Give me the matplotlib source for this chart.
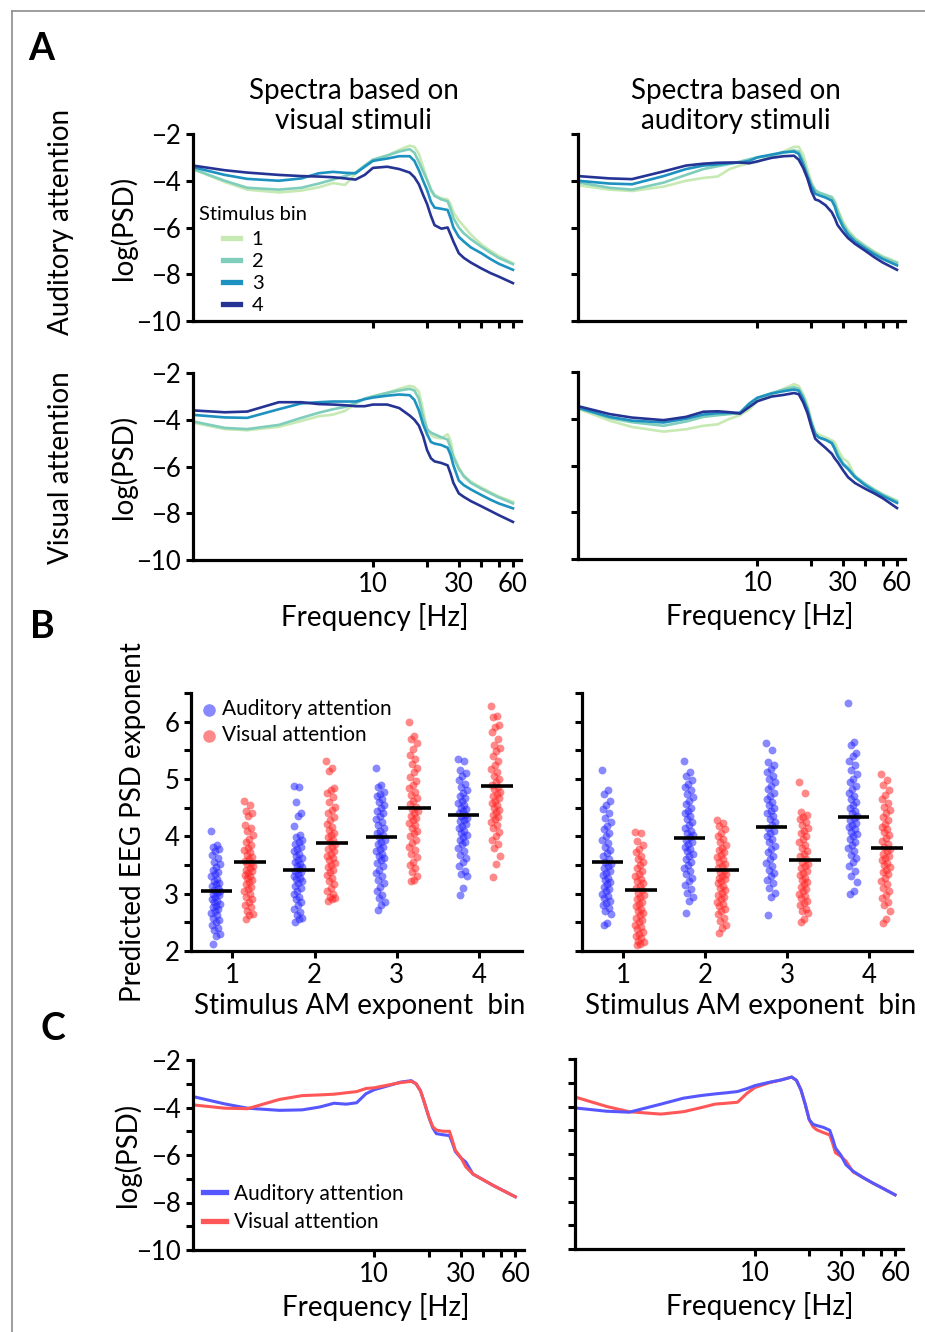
import numpy as np
import matplotlib
matplotlib.use("Agg")
import matplotlib.pyplot as plt
from matplotlib.lines import Line2D

# ── Data ─────────────────────────────────────────────────────────
FREQ = [1, 1.5, 2, 3, 4, 5, 6, 7, 8, 9, 10, 12, 14, 16, 17, 18, 19, 20, 21, 22,
        24, 26, 27, 28, 30, 32, 35, 40, 45, 50, 60]

# Panel A: auditory attention, visual stimuli (bins 1-4)
AA_VS_1 = [-3.5, -4.05, -4.38, -4.5, -4.42, -4.28, -4.1, -4.18, -3.7, -3.35, -3.1, -2.92, -2.68, -2.5, -2.55,
           -2.85, -3.4, -3.95, -4.35, -4.6, -4.75, -4.8, -5.0, -5.35, -5.7, -5.95, -6.3, -6.72, -7.0, -7.22, -7.53]
AA_VS_2 = [-3.5, -4.0, -4.3, -4.38, -4.3, -4.12, -3.95, -3.8, -3.65, -3.35, -3.1, -2.92, -2.75, -2.65, -2.8,
           -3.2, -3.6, -3.97, -4.4, -4.65, -4.8, -4.88, -5.2, -5.6, -6.0, -6.25, -6.5, -6.82, -7.08, -7.3, -7.57]
AA_VS_3 = [-3.42, -3.75, -3.92, -4.0, -3.9, -3.68, -3.62, -3.66, -3.68, -3.4, -3.15, -3.05, -2.95, -2.95, -3.15,
           -3.55, -4.0, -4.4, -4.9, -5.15, -5.2, -5.25, -5.6, -6.0, -6.4, -6.6, -6.85, -7.1, -7.35, -7.55, -7.81]
AA_VS_4 = [-3.35, -3.55, -3.65, -3.75, -3.8, -3.82, -3.85, -3.9, -3.95, -3.75, -3.45, -3.4, -3.5, -3.65, -3.85,
           -4.15, -4.6, -5.0, -5.5, -5.9, -6.05, -6.0, -6.3, -6.6, -7.1, -7.3, -7.5, -7.75, -7.95, -8.1, -8.38]

# Panel A: auditory attention, auditory stimuli
AA_AS_1 = [-4.19, -4.38, -4.44, -4.25, -4.0, -3.88, -3.82, -3.5, -3.35, -3.25, -3.2, -2.95, -2.75, -2.55, -2.55,
           -2.9, -3.5, -4.05, -4.4, -4.58, -4.62, -4.68, -4.85, -5.2, -5.75, -6.1, -6.45, -6.78, -7.03, -7.23, -7.48]
AA_AS_2 = [-4.07, -4.3, -4.38, -4.08, -3.75, -3.5, -3.38, -3.28, -3.18, -3.08, -3.0, -2.92, -2.8, -2.7, -2.75,
           -3.15, -3.7, -4.15, -4.4, -4.5, -4.6, -4.72, -4.95, -5.3, -5.85, -6.2, -6.5, -6.82, -7.08, -7.28, -7.52]
AA_AS_3 = [-4.0, -4.12, -4.15, -3.8, -3.5, -3.35, -3.3, -3.25, -3.22, -3.15, -3.0, -2.88, -2.78, -2.75, -2.85,
           -3.3, -3.8, -4.25, -4.55, -4.62, -4.72, -4.85, -5.1, -5.5, -5.97, -6.3, -6.6, -6.9, -7.15, -7.35, -7.62]
AA_AS_4 = [-3.8, -3.9, -3.93, -3.6, -3.35, -3.27, -3.23, -3.22, -3.22, -3.25, -3.17, -3.02, -2.95, -2.93, -3.1,
           -3.45, -3.9, -4.45, -4.8, -4.85, -5.05, -5.35, -5.6, -5.9, -6.2, -6.45, -6.7, -7.0, -7.28, -7.5, -7.81]

# Panel A: visual attention, visual stimuli
VA_VS_1 = [-4.12, -4.4, -4.45, -4.3, -4.05, -3.85, -3.78, -3.62, -3.3, -3.1, -3.0, -2.85, -2.68, -2.55, -2.6,
           -2.8, -3.6, -4.45, -4.65, -4.75, -4.8, -4.62, -4.9, -5.5, -6.05, -6.38, -6.65, -6.9, -7.1, -7.28, -7.51]
VA_VS_2 = [-4.07, -4.35, -4.4, -4.22, -3.92, -3.7, -3.55, -3.45, -3.3, -3.1, -3.0, -2.85, -2.75, -2.68, -2.75,
           -3.1, -3.9, -4.4, -4.55, -4.62, -4.75, -4.85, -5.2, -5.6, -6.1, -6.42, -6.7, -6.95, -7.15, -7.32, -7.58]
VA_VS_3 = [-3.79, -3.9, -3.92, -3.55, -3.3, -3.25, -3.22, -3.22, -3.22, -3.12, -3.05, -2.97, -2.92, -2.95, -3.15,
           -3.6, -4.2, -4.62, -4.95, -5.02, -5.08, -5.2, -5.5, -5.95, -6.6, -6.8, -6.98, -7.22, -7.42, -7.58, -7.79]
VA_VS_4 = [-3.6, -3.68, -3.65, -3.25, -3.25, -3.33, -3.35, -3.38, -3.42, -3.42, -3.35, -3.35, -3.5, -3.82, -4.0,
           -4.25, -4.7, -5.3, -5.65, -5.78, -5.85, -5.95, -6.3, -6.7, -7.15, -7.3, -7.48, -7.7, -7.9, -8.08, -8.37]

# Panel A: visual attention, auditory stimuli
VA_AS_1 = [-3.57, -4.08, -4.35, -4.55, -4.45, -4.3, -4.24, -4.0, -3.85, -3.6, -3.25, -2.95, -2.72, -2.52, -2.6,
           -2.95, -3.4, -4.05, -4.55, -4.68, -4.8, -4.92, -5.0, -5.3, -5.7, -5.85, -6.45, -6.78, -7.02, -7.22, -7.5]
VA_AS_2 = [-3.53, -3.97, -4.15, -4.3, -4.12, -3.92, -3.85, -3.8, -3.76, -3.4, -3.12, -2.9, -2.75, -2.65, -2.72,
           -3.05, -3.55, -4.2, -4.65, -4.8, -4.9, -5.0, -5.2, -5.5, -5.9, -6.1, -6.45, -6.8, -7.05, -7.25, -7.54]
VA_AS_3 = [-3.53, -3.92, -4.08, -4.16, -4.0, -3.82, -3.76, -3.75, -3.74, -3.35, -3.1, -2.92, -2.82, -2.75, -2.8,
           -3.15, -3.6, -4.2, -4.65, -4.8, -4.9, -5.05, -5.3, -5.6, -5.95, -6.15, -6.5, -6.85, -7.1, -7.3, -7.6]
VA_AS_4 = [-3.46, -3.8, -3.95, -4.06, -3.92, -3.7, -3.68, -3.72, -3.78, -3.5, -3.25, -3.05, -2.98, -2.9, -2.95,
           -3.3, -3.75, -4.35, -4.85, -5.0, -5.25, -5.5, -5.7, -5.85, -6.2, -6.5, -6.75, -7.0, -7.2, -7.4, -7.82]

BIN_LABELS = ["1", "2", "3", "4"]
BIN_COLORS = ["#c7e9b4", "#7fcdbb", "#1d91c0", "#253494"]

# Panel B: predicted EEG PSD exponent per stimulus bin (left: visual stimuli, right: auditory stimuli)
BINS = [1, 2, 3, 4]
BL_AUD_1 = [4.10, 3.85, 3.82, 3.78, 3.74, 3.68, 3.62, 3.56, 3.52, 3.47, 3.42, 3.38, 3.34, 3.30, 3.26, 3.22,
            3.19, 3.16, 3.13, 3.10, 3.07, 3.05, 3.02, 3.00, 2.97, 2.94, 2.91, 2.88, 2.85, 2.82, 2.79, 2.76,
            2.73, 2.70, 2.66, 2.62, 2.58, 2.54, 2.50, 2.45, 2.40, 2.36, 2.30, 2.26, 2.13]
BL_AUD_2 = [4.88, 4.86, 4.60, 4.40, 4.36, 4.18, 4.02, 3.98, 3.94, 3.90, 3.86, 3.82, 3.78, 3.74, 3.70, 3.66,
            3.62, 3.58, 3.55, 3.52, 3.49, 3.46, 3.43, 3.40, 3.37, 3.34, 3.31, 3.28, 3.25, 3.22, 3.18, 3.14,
            3.10, 3.05, 3.00, 2.95, 2.90, 2.85, 2.80, 2.74, 2.68, 2.62, 2.58, 2.55, 2.50]
BL_AUD_3 = [5.20, 4.90, 4.86, 4.78, 4.74, 4.70, 4.65, 4.60, 4.55, 4.50, 4.45, 4.40, 4.35, 4.30, 4.25, 4.20,
            4.15, 4.10, 4.06, 4.02, 3.98, 3.94, 3.90, 3.86, 3.82, 3.78, 3.74, 3.70, 3.66, 3.62, 3.58, 3.53,
            3.48, 3.42, 3.36, 3.30, 3.24, 3.18, 3.12, 3.05, 2.98, 2.92, 2.85, 2.80, 2.71]
BL_AUD_4 = [5.35, 5.32, 5.15, 5.10, 5.05, 4.98, 4.92, 4.86, 4.80, 4.75, 4.70, 4.66, 4.62, 4.58, 4.54, 4.50,
            4.47, 4.44, 4.41, 4.38, 4.35, 4.32, 4.29, 4.26, 4.22, 4.18, 4.14, 4.10, 4.06, 4.02, 3.98, 3.94,
            3.90, 3.86, 3.80, 3.74, 3.68, 3.62, 3.55, 3.48, 3.40, 3.35, 3.30, 3.10, 2.97]
BL_VIS_1 = [4.61, 4.55, 4.45, 4.40, 4.36, 4.20, 4.15, 4.10, 4.02, 3.96, 3.90, 3.85, 3.80, 3.76, 3.72, 3.68,
            3.64, 3.60, 3.57, 3.54, 3.51, 3.48, 3.45, 3.42, 3.39, 3.36, 3.33, 3.30, 3.27, 3.24, 3.20, 3.16,
            3.12, 3.08, 3.04, 3.00, 2.95, 2.90, 2.85, 2.80, 2.76, 2.70, 2.65, 2.62, 2.55]
BL_VIS_2 = [5.32, 5.20, 5.14, 4.85, 4.80, 4.75, 4.68, 4.60, 4.52, 4.46, 4.40, 4.34, 4.28, 4.22, 4.16, 4.11,
            4.06, 4.02, 3.98, 3.94, 3.90, 3.86, 3.82, 3.78, 3.74, 3.70, 3.66, 3.62, 3.58, 3.54, 3.50, 3.46,
            3.42, 3.38, 3.33, 3.28, 3.22, 3.16, 3.10, 3.05, 3.00, 2.95, 2.92, 2.90, 2.87]
BL_VIS_3 = [6.00, 5.75, 5.70, 5.62, 5.52, 5.42, 5.35, 5.26, 5.20, 5.12, 5.04, 4.96, 4.90, 4.84, 4.78, 4.72,
            4.67, 4.62, 4.57, 4.52, 4.48, 4.44, 4.40, 4.36, 4.32, 4.28, 4.24, 4.20, 4.15, 4.10, 4.05, 4.00,
            3.94, 3.88, 3.82, 3.76, 3.70, 3.64, 3.56, 3.50, 3.44, 3.38, 3.30, 3.24, 3.22]
BL_VIS_4 = [6.27, 6.10, 6.08, 5.95, 5.90, 5.82, 5.70, 5.60, 5.54, 5.48, 5.40, 5.32, 5.25, 5.18, 5.12, 5.06,
            5.00, 4.95, 4.90, 4.86, 4.82, 4.78, 4.74, 4.70, 4.66, 4.62, 4.58, 4.54, 4.50, 4.46, 4.42, 4.38,
            4.34, 4.30, 4.25, 4.20, 4.14, 4.08, 4.00, 3.94, 3.86, 3.80, 3.65, 3.52, 3.29]
BR_AUD_1 = [5.16, 4.80, 4.74, 4.62, 4.55, 4.48, 4.40, 4.32, 4.25, 4.18, 4.12, 4.06, 4.00, 3.94, 3.88, 3.82,
            3.76, 3.71, 3.66, 3.61, 3.56, 3.52, 3.48, 3.44, 3.40, 3.36, 3.32, 3.28, 3.24, 3.20, 3.16, 3.12,
            3.08, 3.04, 3.00, 2.96, 2.92, 2.88, 2.84, 2.80, 2.75, 2.70, 2.65, 2.48, 2.45]
BR_AUD_2 = [5.31, 5.12, 5.05, 4.98, 4.92, 4.86, 4.80, 4.74, 4.68, 4.62, 4.56, 4.50, 4.45, 4.40, 4.35, 4.30,
            4.25, 4.20, 4.15, 4.10, 4.06, 4.02, 3.98, 3.94, 3.90, 3.86, 3.82, 3.78, 3.74, 3.70, 3.65, 3.60,
            3.55, 3.50, 3.45, 3.40, 3.34, 3.28, 3.22, 3.15, 3.08, 3.02, 2.95, 2.88, 2.66]
BR_AUD_3 = [5.62, 5.50, 5.30, 5.25, 5.18, 5.12, 5.06, 5.00, 4.94, 4.88, 4.82, 4.76, 4.70, 4.65, 4.60, 4.55,
            4.50, 4.45, 4.40, 4.35, 4.30, 4.25, 4.20, 4.15, 4.10, 4.05, 4.00, 3.95, 3.90, 3.84, 3.78, 3.72,
            3.66, 3.60, 3.54, 3.48, 3.42, 3.36, 3.30, 3.24, 3.18, 3.10, 3.02, 2.95, 2.63]
BR_AUD_4 = [6.32, 5.65, 5.60, 5.45, 5.40, 5.32, 5.24, 5.16, 5.08, 5.00, 4.94, 4.88, 4.82, 4.76, 4.70, 4.65,
            4.60, 4.55, 4.50, 4.45, 4.40, 4.36, 4.32, 4.28, 4.24, 4.20, 4.16, 4.12, 4.08, 4.04, 4.00, 3.95,
            3.90, 3.85, 3.80, 3.74, 3.68, 3.62, 3.55, 3.48, 3.40, 3.30, 3.20, 3.05, 3.00]
BR_VIS_1 = [4.07, 4.05, 3.92, 3.85, 3.78, 3.72, 3.66, 3.60, 3.55, 3.50, 3.45, 3.40, 3.35, 3.30, 3.26, 3.22,
            3.18, 3.14, 3.10, 3.06, 3.02, 2.98, 2.94, 2.90, 2.86, 2.82, 2.78, 2.74, 2.70, 2.66, 2.62, 2.58,
            2.54, 2.50, 2.46, 2.42, 2.38, 2.34, 2.30, 2.26, 2.22, 2.18, 2.15, 2.12, 2.10]
BR_VIS_2 = [4.28, 4.24, 4.18, 4.12, 4.06, 4.00, 3.95, 3.90, 3.85, 3.80, 3.76, 3.72, 3.68, 3.64, 3.60, 3.56,
            3.52, 3.48, 3.44, 3.40, 3.37, 3.34, 3.31, 3.28, 3.25, 3.22, 3.18, 3.14, 3.10, 3.06, 3.02, 2.98,
            2.94, 2.90, 2.86, 2.82, 2.78, 2.74, 2.70, 2.64, 2.58, 2.52, 2.45, 2.40, 2.31]
BR_VIS_3 = [4.94, 4.75, 4.42, 4.38, 4.34, 4.30, 4.25, 4.20, 4.15, 4.10, 4.05, 4.00, 3.95, 3.90, 3.85, 3.80,
            3.75, 3.70, 3.65, 3.60, 3.56, 3.52, 3.48, 3.44, 3.40, 3.36, 3.32, 3.28, 3.24, 3.20, 3.16, 3.12,
            3.08, 3.04, 3.00, 2.96, 2.92, 2.88, 2.84, 2.80, 2.74, 2.70, 2.66, 2.55, 2.50]
BR_VIS_4 = [5.08, 4.98, 4.90, 4.80, 4.72, 4.65, 4.58, 4.52, 4.46, 4.40, 4.34, 4.28, 4.22, 4.17, 4.12, 4.07,
            4.02, 3.97, 3.92, 3.87, 3.82, 3.78, 3.74, 3.70, 3.66, 3.62, 3.58, 3.54, 3.50, 3.46, 3.42, 3.38,
            3.34, 3.28, 3.22, 3.16, 3.10, 3.04, 2.98, 2.92, 2.86, 2.80, 2.70, 2.55, 2.49]

BL_AUD_MEAN = [3.04, 3.42, 3.98, 4.38]
BL_VIS_MEAN = [3.56, 3.88, 4.49, 4.87]
BR_AUD_MEAN = [3.55, 3.97, 4.16, 4.33]
BR_VIS_MEAN = [3.06, 3.41, 3.58, 3.79]

# Panel C: spectra averaged over bins
CL_AUD = [-3.54, -3.85, -4.03, -4.12, -4.1, -3.98, -3.82, -3.86, -3.8, -3.42, -3.25, -3.08, -2.93, -2.87, -3.0,
          -3.3, -3.85, -4.4, -4.85, -5.1, -5.15, -5.18, -5.5, -5.85, -6.12, -6.3, -6.8, -7.05, -7.27, -7.45, -7.76]
CL_VIS = [-3.89, -4.03, -4.05, -3.66, -3.5, -3.47, -3.44, -3.38, -3.33, -3.2, -3.17, -3.05, -2.95, -2.9, -3.0,
          -3.3, -3.85, -4.4, -4.8, -4.95, -5.0, -5.0, -5.4, -5.8, -6.1, -6.5, -6.8, -7.05, -7.27, -7.45, -7.76]
CR_AUD = [-4.06, -4.2, -4.24, -3.9, -3.65, -3.54, -3.47, -3.42, -3.37, -3.25, -3.12, -2.98, -2.88, -2.76, -2.9,
          -3.3, -3.9, -4.55, -4.75, -4.8, -4.88, -5.0, -5.35, -5.75, -6.05, -6.45, -6.72, -7.0, -7.22, -7.4, -7.72]
CR_VIS = [-3.6, -4.0, -4.22, -4.32, -4.22, -4.05, -3.9, -3.86, -3.82, -3.45, -3.2, -3.0, -2.88, -2.76, -2.9,
          -3.3, -3.9, -4.55, -4.85, -4.98, -5.1, -5.2, -5.55, -5.95, -6.1, -6.3, -6.75, -7.0, -7.22, -7.4, -7.72]

AUD_COLOR = "#2626ff"
VIS_COLOR = "#ff2626"
AUD_LINE = "#5757ff"
VIS_LINE = "#ff5757"

# ── Style ────────────────────────────────────────────────────────
plt.rcParams["font.family"] = ["Lato", "DejaVu Sans"]
plt.rcParams["font.size"] = 18.5
plt.rcParams["axes.linewidth"] = 2.3

LABEL_FS = 20
TICK_FS = 18.5

W, H = 925, 1332
fig = plt.figure(figsize=(W / 100, H / 100), dpi=100)


def add_ax(left, top, right, bottom):
    return fig.add_axes([left / W, 1 - bottom / H, (right - left) / W, (bottom - top) / H])


def style_ax(ax):
    for s in ["top", "right"]:
        ax.spines[s].set_visible(False)
    ax.tick_params(which="both", direction="out", length=5, width=2.2, labelsize=TICK_FS, pad=3.5)


def spectrum_ax(ax, xmax, show_x=True, show_y=True, minor_y=False):
    style_ax(ax)
    ax.set_xscale("log")
    ax.set_xlim(1, xmax)
    ax.set_ylim(-10, -2)
    ax.set_xticks([10, 20, 30, 40, 50, 60])
    ax.set_xticklabels(["10", "", "30", "", "", "60"] if show_x else [""] * 6)
    ax.xaxis.set_minor_locator(plt.NullLocator())
    ax.set_yticks([-10, -8, -6, -4, -2])
    if minor_y:
        ax.set_yticks([-9, -7, -5, -3], minor=True)
    if not show_y:
        ax.tick_params(labelleft=False)
    if show_x:
        ax.set_xlabel("Frequency [Hz]", fontsize=LABEL_FS)
        ax.xaxis.set_label_coords(0.555, -0.228)


# ── Panel A ──────────────────────────────────────────────────────
a_tl = add_ax(193, 134, 521, 321)
a_tr = add_ax(578, 134, 905, 321)
a_bl = add_ax(193, 373, 521, 560)
a_br = add_ax(578, 372, 905, 559)

panel_a = [
    (a_tl, [AA_VS_1, AA_VS_2, AA_VS_3, AA_VS_4]),
    (a_tr, [AA_AS_1, AA_AS_2, AA_AS_3, AA_AS_4]),
    (a_bl, [VA_VS_1, VA_VS_2, VA_VS_3, VA_VS_4]),
    (a_br, [VA_AS_1, VA_AS_2, VA_AS_3, VA_AS_4]),
]
for ax, curves in panel_a:
    for vals, col, lab in zip(curves, BIN_COLORS, BIN_LABELS):
        ax.plot(FREQ, vals, color=col, linewidth=1.9, label=lab)

spectrum_ax(a_tl, 66.5, show_x=False)
spectrum_ax(a_tr, 66.5, show_x=False, show_y=False)
spectrum_ax(a_bl, 66.5)
spectrum_ax(a_br, 66.5, show_y=False)

a_tl.set_title("Spectra based on\nvisual stimuli", fontsize=LABEL_FS, pad=3, linespacing=1.2, x=0.49)
a_tr.set_title("Spectra based on\nauditory stimuli", fontsize=LABEL_FS, pad=3, linespacing=1.2, x=0.482)
for ax in [a_tl, a_bl]:
    ax.set_ylabel("log(PSD)", fontsize=LABEL_FS)
    ax.yaxis.set_label_coords(-0.17, 0.5)

a_tl.text(0.018, 0.567, "Stimulus bin", transform=a_tl.transAxes, fontsize=14.5,
          ha="left", va="center")
leg = a_tl.legend(loc="upper left", bbox_to_anchor=(0.09, 0.483), frameon=False, fontsize=14.5,
                  handlelength=0.85, handletextpad=0.6, labelspacing=0.25, borderpad=0,
                  borderaxespad=0)
for h in leg.get_lines():
    h.set_linewidth(3.8)

fig.text(61 / W, 1 - 222 / H, "Auditory attention", rotation=90, ha="center", va="center",
         fontsize=LABEL_FS)
fig.text(61 / W, 1 - 468 / H, "Visual attention", rotation=90, ha="center", va="center",
         fontsize=LABEL_FS)

# ── Panel B ──────────────────────────────────────────────────────
b_l = add_ax(191, 693, 522, 951)
b_r = add_ax(582, 693, 912, 951)


def strip_x(center, n):
    k = np.arange(n)
    return center + ((k * 0.618034) % 1.0 - 0.5) * 0.11


panel_b = [
    (b_l, [BL_AUD_1, BL_AUD_2, BL_AUD_3, BL_AUD_4], [BL_VIS_1, BL_VIS_2, BL_VIS_3, BL_VIS_4],
     BL_AUD_MEAN, BL_VIS_MEAN),
    (b_r, [BR_AUD_1, BR_AUD_2, BR_AUD_3, BR_AUD_4], [BR_VIS_1, BR_VIS_2, BR_VIS_3, BR_VIS_4],
     BR_AUD_MEAN, BR_VIS_MEAN),
]
for ax, aud, vis, aud_m, vis_m in panel_b:
    for i, b in enumerate(BINS):
        ax.scatter(strip_x(b - 0.2, len(aud[i])), aud[i], s=32, color=AUD_COLOR, alpha=0.55,
                   linewidths=0, label="Auditory attention" if i == 0 else None)
        ax.scatter(strip_x(b + 0.2, len(vis[i])), vis[i], s=32, color=VIS_COLOR, alpha=0.55,
                   linewidths=0, label="Visual attention" if i == 0 else None)
        ax.plot([b - 0.38, b], [aud_m[i]] * 2, color="black", linewidth=2.6, zorder=5,
                solid_capstyle="butt")
        ax.plot([b + 0.02, b + 0.41], [vis_m[i]] * 2, color="black", linewidth=2.6, zorder=5,
                solid_capstyle="butt")
    style_ax(ax)
    ax.set_xlim(0.5, 4.52)
    ax.set_ylim(2, 6.5)
    ax.set_xticks(BINS)
    ax.set_yticks([2, 3, 4, 5, 6])
    ax.set_yticks([2.5, 3.5, 4.5, 5.5, 6.5], minor=True)
    ax.set_xlabel("Stimulus AM exponent  bin", fontsize=LABEL_FS)
    ax.xaxis.set_label_coords(0.51, -0.162)

b_r.tick_params(labelleft=False)
b_l.set_ylabel("Predicted EEG PSD exponent", fontsize=LABEL_FS)
b_l.yaxis.set_label_coords(-0.137, 0.5)
b_l.legend(loc="upper left", bbox_to_anchor=(0.03, 0.976), frameon=False, fontsize=15,
           markerscale=1.6, handlelength=0.8, handletextpad=0.2, labelspacing=0.3,
           borderpad=0, borderaxespad=0)

# ── Panel C ──────────────────────────────────────────────────────
c_l = add_ax(193, 1060, 524, 1250)
c_r = add_ax(575, 1059, 903, 1249)

c_l.plot(FREQ, CL_AUD, color=AUD_LINE, linewidth=2.2, label="Auditory attention")
c_l.plot(FREQ, CL_VIS, color=VIS_LINE, linewidth=2.2, label="Visual attention")
c_r.plot(FREQ, CR_VIS, color=VIS_LINE, linewidth=2.2)
c_r.plot(FREQ, CR_AUD, color=AUD_LINE, linewidth=2.2)

spectrum_ax(c_l, 67, minor_y=True)
spectrum_ax(c_r, 66.4, show_y=False, minor_y=True)
c_l.xaxis.set_label_coords(0.551, -0.225)
c_r.xaxis.set_label_coords(0.5625, -0.225)
c_l.set_ylabel("log(PSD)", fontsize=LABEL_FS)
c_l.yaxis.set_label_coords(-0.158, 0.5)
leg_c = c_l.legend(loc="upper left", bbox_to_anchor=(0.03, 0.35), frameon=False, fontsize=15,
                   handlelength=1.1, handletextpad=0.4, labelspacing=0.4, borderpad=0,
                   borderaxespad=0)
for h in leg_c.get_lines():
    h.set_linewidth(3.8)

# ── Panel letters and frame ──────────────────────────────────────
for letter, x, y in [("A", 28, 60), ("B", 30, 638), ("C", 41, 1040)]:
    fig.text(x / W, 1 - y / H, letter, fontsize=27, fontweight="bold", ha="left", va="baseline")

fig.add_artist(Line2D([12 / W, 12 / W], [0, 1 - 11 / H], transform=fig.transFigure,
                      color="#8c8c8c", linewidth=1.2))
fig.add_artist(Line2D([12 / W, 1], [1 - 11 / H, 1 - 11 / H], transform=fig.transFigure,
                      color="#8c8c8c", linewidth=1.2))

fig.savefig("out.png", dpi=100)
